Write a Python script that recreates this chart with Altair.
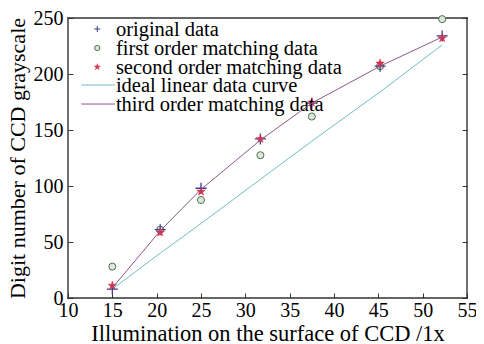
import altair as alt
import pandas as pd

# ---- data ----
illum = [15, 20.4, 25, 31.7, 37.5, 45.2, 52.2]
original = [8, 61, 98, 142, 174, 207, 234]
first_order = [28, 61, 87.5, 127.5, 162, 207, 249]
second_order = [11, 58.5, 95, 142, 174.5, 209.5, 232]
ideal_linear = [8, 40, 66.5, 106, 140, 184, 226]
third_order = [9, 60, 97, 141, 174, 207, 233]

x_domain = [10, 55]
y_domain = [0, 250]
x_ticks = [10, 15, 20, 25, 30, 35, 40, 45, 50, 55]
y_ticks = [0, 50, 100, 150, 200, 250]

legend_labels = [
    "original data",
    "first order matching data",
    "second order matching data",
    "ideal linear data curve",
    "third order matching data",
]
# legend anchor positions, expressed in the chart's data units
legend_rows_y = [240.2, 223.2, 206.3, 190.2, 173.2]
legend_text_x = 15.4
legend_symbol_x = 13.3
legend_line_x = [11.5, 15.3]

FONT = "Liberation Serif"
C_ORIG = "#3c3c8c"
C_FIRST_FILL = "#d6ead6"
C_FIRST_EDGE = "#5a6a5a"
C_SECOND = "#d8304a"
C_IDEAL = "#6fbfc0"
C_THIRD = "#8a5a8a"
FRAME = "#333333"

PLUS = "M-1,0H1M0,-1V1"
STAR = ("M0,-1L0.225,-0.309L0.951,-0.309L0.363,0.118L0.588,0.809L0,0.382"
        "L-0.588,0.809L-0.363,0.118L-0.951,-0.309L-0.225,-0.309Z")

df = pd.DataFrame({
    "x": illum,
    "orig": original,
    "first": first_order,
    "second": second_order,
    "ideal": ideal_linear,
    "third": third_order,
})

xs = alt.Scale(domain=x_domain, nice=False, zero=False)
ys = alt.Scale(domain=y_domain, nice=False, zero=False)

x_axis = alt.Axis(
    values=x_ticks, offset=-5, tickSize=5, domain=False, grid=False,
    tickColor=FRAME, labelFont=FONT, labelFontSize=20, labelColor="black",
    labelPadding=2, labelFlush=False, labelOverlap=False,
    title="Illumination on the surface of CCD /1x", titleFont=FONT,
    titleFontSize=22.5, titleFontWeight="normal", titleColor="black", titlePadding=2,
)
y_axis = alt.Axis(
    values=y_ticks, offset=-5, tickSize=5, domain=False, grid=False,
    tickColor=FRAME, labelFont=FONT, labelFontSize=20, labelColor="black",
    labelPadding=5, labelFlush=False, labelOverlap=False,
    title="Digit number of CCD grayscale", titleFont=FONT,
    titleFontSize=22, titleFontWeight="normal", titleColor="black", titlePadding=4,
)
y_axis_right = alt.Axis(
    orient="right", values=y_ticks, offset=-5, tickSize=5, domain=False,
    grid=False, tickColor=FRAME, labels=False, title=None,
)


def X(field):
    return alt.X(field, scale=xs, axis=x_axis)


def Y(field, axis=y_axis):
    return alt.Y(field, scale=ys, axis=axis)


base = alt.Chart(df)

# plot frame: four rules along the axis domain limits
frame_df = pd.DataFrame({
    "ax0": [x_domain[0], x_domain[0], x_domain[0], x_domain[1]],
    "ax1": [x_domain[1], x_domain[1], x_domain[0], x_domain[1]],
    "ay0": [y_domain[0], y_domain[1], y_domain[0], y_domain[0]],
    "ay1": [y_domain[0], y_domain[1], y_domain[1], y_domain[1]],
})
frame = alt.Chart(frame_df).mark_rule(
    color=FRAME, strokeWidth=1.4, strokeCap="square",
).encode(x=X("ax0:Q"), x2="ax1:Q", y=Y("ay0:Q"), y2="ay1:Q")

ideal_line = base.mark_line(color=C_IDEAL, strokeWidth=1).encode(
    x=X("x:Q"), y=Y("ideal:Q"),
)
third_line = base.mark_line(color=C_THIRD, strokeWidth=1).encode(
    x=X("x:Q"), y=Y("third:Q", y_axis_right),
)
first_pts = base.mark_point(
    shape="circle", filled=True, fill=C_FIRST_FILL, stroke=C_FIRST_EDGE,
    strokeWidth=1, size=50, opacity=1,
).encode(x=X("x:Q"), y=Y("first:Q"))
orig_pts = base.mark_point(
    shape=PLUS, filled=False, stroke=C_ORIG, strokeWidth=1.3, size=121, opacity=1,
).encode(x=X("x:Q"), y=Y("orig:Q"))
second_pts = base.mark_point(
    shape=STAR, filled=True, fill=C_SECOND, stroke=C_SECOND, strokeWidth=0.5,
    size=81, opacity=1,
).encode(x=X("x:Q"), y=Y("second:Q"))

# ---- legend drawn inside the plot, built from the arrays above ----
leg = pd.DataFrame({
    "label": legend_labels,
    "ly": legend_rows_y,
    "tx": [legend_text_x] * 5,
    "sx": [legend_symbol_x] * 5,
    "lx1": [legend_line_x[0]] * 5,
    "lx2": [legend_line_x[1]] * 5,
})
leg_base = alt.Chart(leg)

leg_text = leg_base.mark_text(
    align="left", baseline="middle", font=FONT, fontSize=20.5, color="black", dy=1,
).encode(x=X("tx:Q"), y=Y("ly:Q"), text="label:N")
leg_plus = leg_base.transform_filter(alt.datum.label == legend_labels[0]).mark_point(
    shape=PLUS, filled=False, stroke=C_ORIG, strokeWidth=1, size=36, opacity=1,
).encode(x=X("sx:Q"), y=Y("ly:Q"))
leg_circle = leg_base.transform_filter(alt.datum.label == legend_labels[1]).mark_point(
    shape="circle", filled=True, fill=C_FIRST_FILL, stroke=C_FIRST_EDGE,
    strokeWidth=1, size=28, opacity=1,
).encode(x=X("sx:Q"), y=Y("ly:Q"))
leg_star = leg_base.transform_filter(alt.datum.label == legend_labels[2]).mark_point(
    shape=STAR, filled=True, fill=C_SECOND, stroke=C_SECOND, strokeWidth=0.5,
    size=40, opacity=1,
).encode(x=X("sx:Q"), y=Y("ly:Q"))
leg_ideal = leg_base.transform_filter(alt.datum.label == legend_labels[3]).mark_rule(
    color=C_IDEAL, strokeWidth=1,
).encode(x=X("lx1:Q"), x2="lx2:Q", y=Y("ly:Q"))
leg_third = leg_base.transform_filter(alt.datum.label == legend_labels[4]).mark_rule(
    color=C_THIRD, strokeWidth=1,
).encode(x=X("lx1:Q"), x2="lx2:Q", y=Y("ly:Q"))

inner = alt.layer(
    frame, ideal_line, first_pts, orig_pts, second_pts,
    leg_ideal, leg_third, leg_plus, leg_circle, leg_star, leg_text,
)

chart = alt.layer(inner, third_line).resolve_axis(y="independent").properties(
    width=399, height=280,
    autosize=alt.AutoSizeParams(type="none"),
    padding={"left": 60, "top": 10, "right": 9, "bottom": 46},
    background="white",
).configure_view(strokeOpacity=0)

chart.save("out.html", embed_options={"renderer": "svg", "actions": False})
